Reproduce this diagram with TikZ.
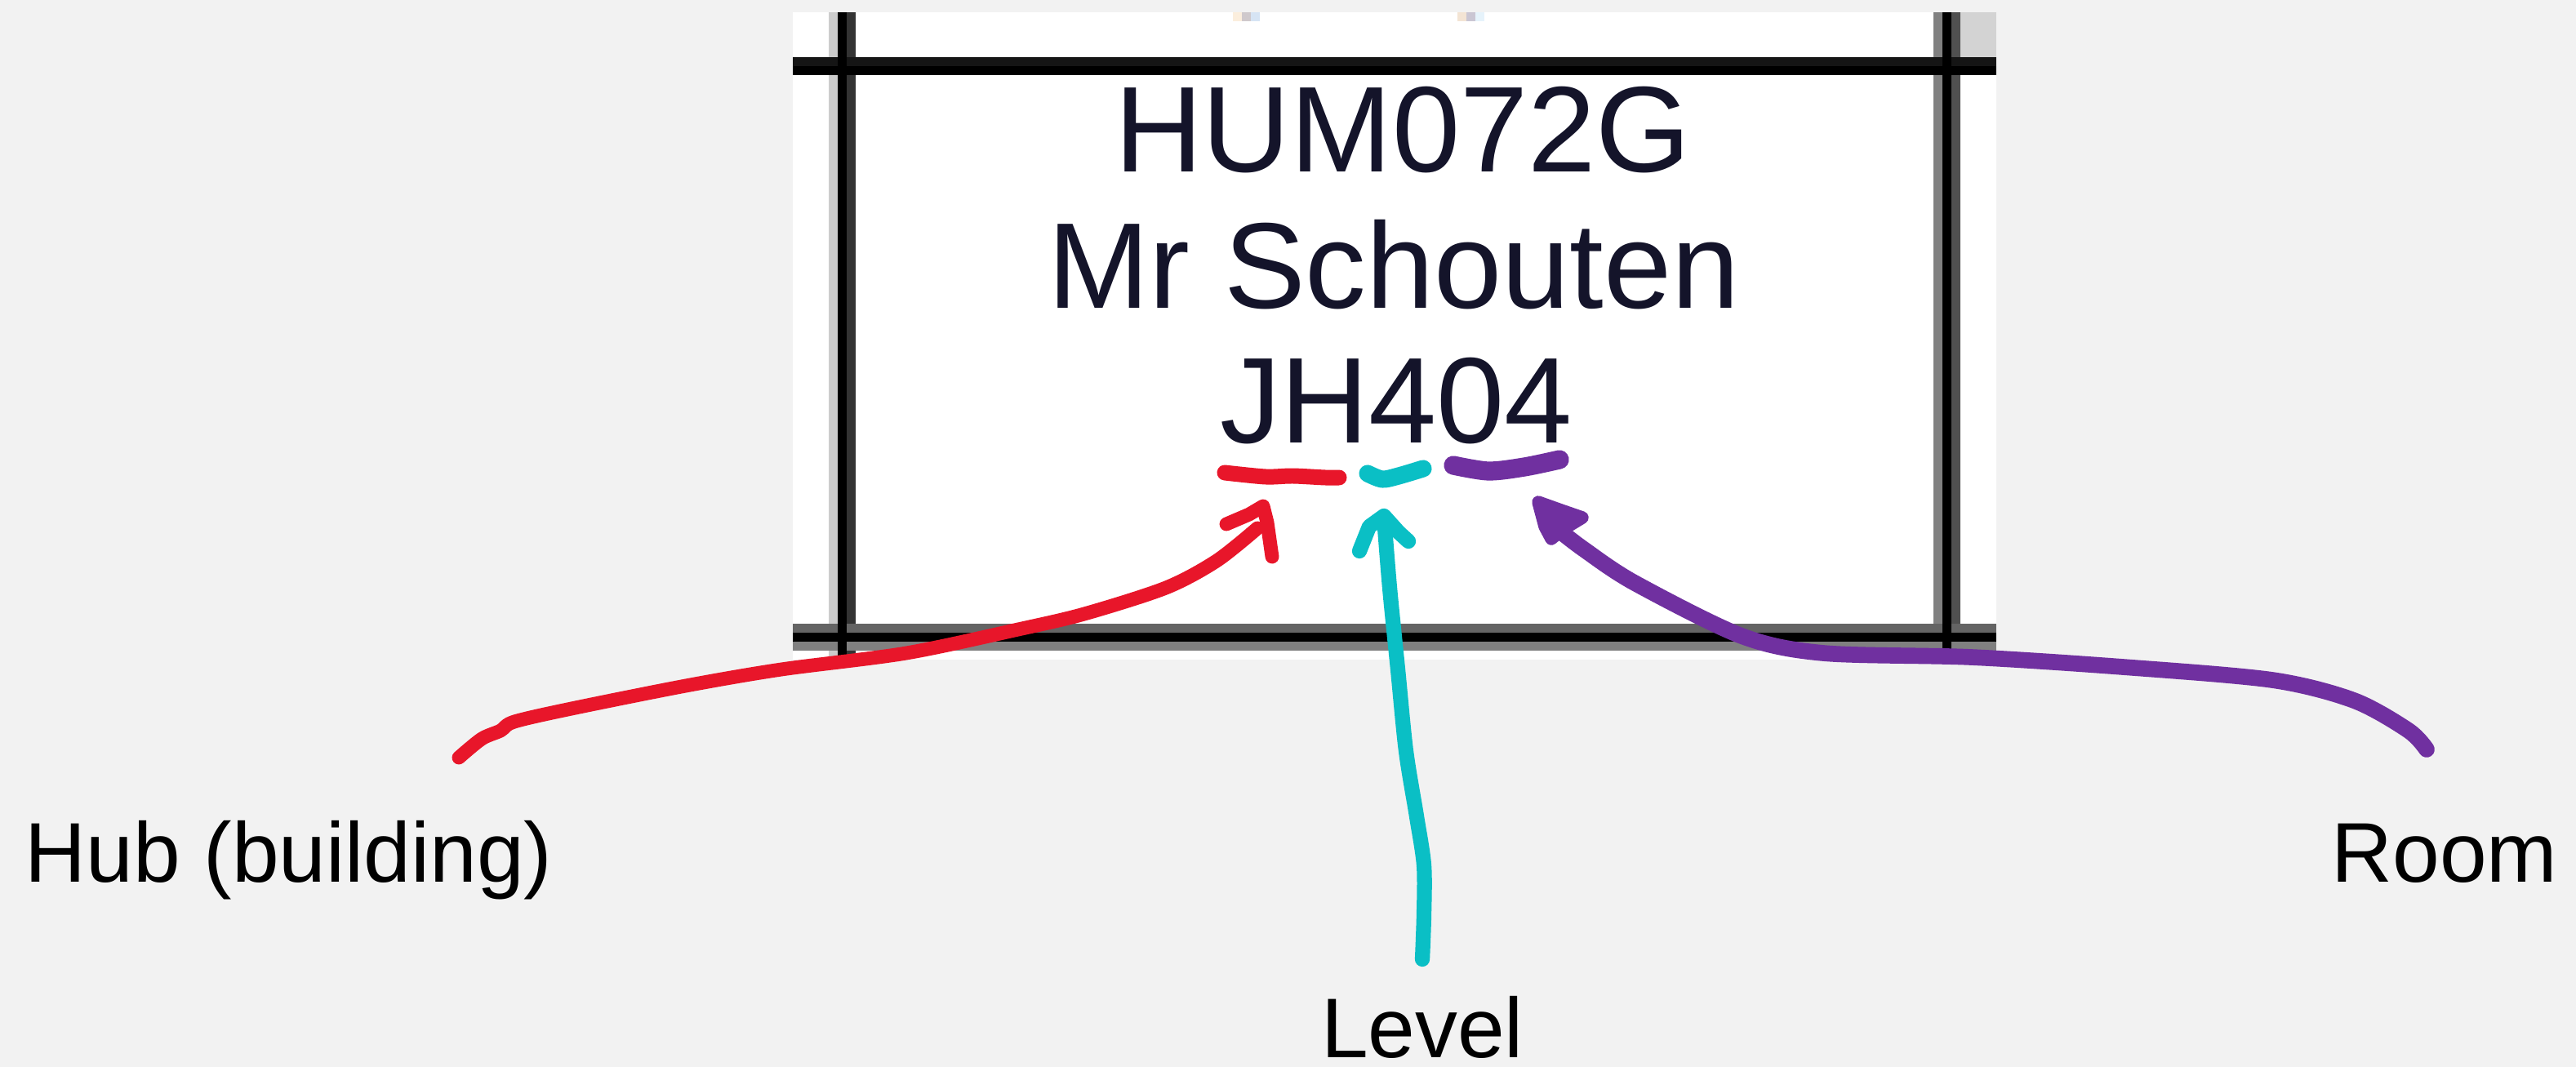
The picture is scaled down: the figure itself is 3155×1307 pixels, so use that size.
\documentclass[tikz,border=0pt]{standalone}
\usepackage{fontspec}
\setmainfont{Liberation Sans}
\usepackage{tikz}

\definecolor{pagegray}{HTML}{F2F2F2}
\definecolor{inkred}{HTML}{E8162A}
\definecolor{inkcyan}{HTML}{0ABFC5}
\definecolor{inkpurple}{HTML}{7030A0}
\definecolor{celltext}{HTML}{14142A}
\definecolor{gridA}{HTML}{CCCCCC}
\definecolor{gridB}{HTML}{333333}
\definecolor{gridC}{HTML}{808080}
\definecolor{gridD}{HTML}{505050}
\definecolor{gridE}{HTML}{151515}
\definecolor{gridF}{HTML}{646464}
\definecolor{cornergray}{HTML}{D3D3D3}
\definecolor{fragA}{HTML}{FBEEDD}
\definecolor{fragB}{HTML}{CFC9CC}
\definecolor{fragC}{HTML}{D6E4F4}
\definecolor{fragD}{HTML}{F3E4D4}
\definecolor{fragE}{HTML}{CAC6D3}
\definecolor{fragF}{HTML}{E6F3FB}

\tikzset{
  ink/.style={line width=#1, line cap=round, line join=round},
  ink/.default=5.2pt,
  cardtext/.style={anchor=base, inner sep=0pt, text=celltext, font=\fontsize{42.5}{50}\selectfont},
  labeltext/.style={inner sep=0pt, font=\fontsize{29.5}{35}\selectfont},
}

\begin{document}
\begin{tikzpicture}[x=0.01cm, y=-0.01cm]
  \fill[pagegray] (0,0) rectangle (3155,1307);
  \useasboundingbox (0,0) rectangle (3155,1307);

  \fill[white] (971,15) rectangle (2445,808);
  \fill[cornergray] (2401,15) rectangle (2445,70);
  \fill[fragA] (1510,15) rectangle (1521,26);
  \fill[fragB] (1521,15) rectangle (1532,26);
  \fill[fragC] (1532,15) rectangle (1543,26);
  \fill[fragD] (1785,15) rectangle (1796,26);
  \fill[fragE] (1796,15) rectangle (1807,26);
  \fill[fragF] (1807,15) rectangle (1818,26);

  \fill[gridA] (1015,15) rectangle (1026,808);
  \fill[gridB] (1037,15) rectangle (1048,808);
  \fill[gridC] (2368,15) rectangle (2379,808);
  \fill[gridD] (2390,15) rectangle (2401,808);
  \fill[gridE] (971,70) rectangle (2445,81);
  \fill[black] (971,81) rectangle (2445,92);
  \fill[gridF] (971,764) rectangle (2445,775);
  \fill[black] (971,775) rectangle (2445,786);
  \fill[gridC] (971,786) rectangle (2445,797);
  \fill[black] (1026,15) rectangle (1037,808);
  \fill[black] (2379,15) rectangle (2390,808);

  \node[cardtext] (code) at (1718,211) {HUM072G};
  \node[cardtext] (teacher) at (1707,378) {Mr Schouten};
  \node[cardtext] (roomcode) at (1710,543) {JH404};

  \node[labeltext, anchor=base west] (hub) at (30,1080) {Hub (building)};
  \node[labeltext, anchor=base] (level) at (1742,1295) {Level};
  \node[labeltext, anchor=base east] (room) at (3133,1080) {Room};

  \coordinate (hubink) at (562,928);
  \coordinate (hubtip) at (1540,647);
  \coordinate (levelink) at (1742,1175);
  \coordinate (leveltip) at (1695,633);
  \coordinate (roomink) at (2972,918);
  \coordinate (roomtip) at (1910,650);

  \draw[inkred, ink=5.4pt] plot[smooth] coordinates {(1500,579) (1550,584) (1583,583) (1623,585) (1640,585)};
  \draw[inkred, ink=4.8pt] plot[smooth] coordinates {(hubink) (590,905) (613,895) (630,884) (700,868) (840,840) (957,820) (1110,800) (1247,771) (1328,752) (1428,720) (1490,687) (hubtip)};
  \draw[inkred, ink=4.8pt] (1502,642) -- (1530,630) -- (1547,620) -- (1552,640) -- (1558,682);

  \draw[inkcyan, ink=6pt] plot[smooth] coordinates {(1675,580) (1693,587) (1713,583) (1743,574)};
  \draw[inkcyan, ink] plot[smooth] coordinates {(levelink) (1744,1120) (1744,1060) (1735,1000) (1722,920) (1712,820) (1702,720) (leveltip)};
  \draw[inkcyan, ink] (1665,675) -- (1677,645) -- (1695,632) -- (1713,652) -- (1725,663);

  \draw[inkpurple, ink=6.6pt] plot[smooth] coordinates {(1780,570) (1823,577) (1867,572) (1910,563)};
  \draw[inkpurple, ink=5.6pt] plot[smooth] coordinates {(roomink) (2950,895) (2883,858) (2783,833) (2600,817) (2414,805) (2233,800) (2133,779) (2002,714) (1940,673) (roomtip)};
  \filldraw[inkpurple, ink=4.4pt] (1884,615) -- (1892,645) -- (1900,660) -- (1915,648) -- (1938,634) -- (1912,625) -- cycle;
\end{tikzpicture}
\end{document}
